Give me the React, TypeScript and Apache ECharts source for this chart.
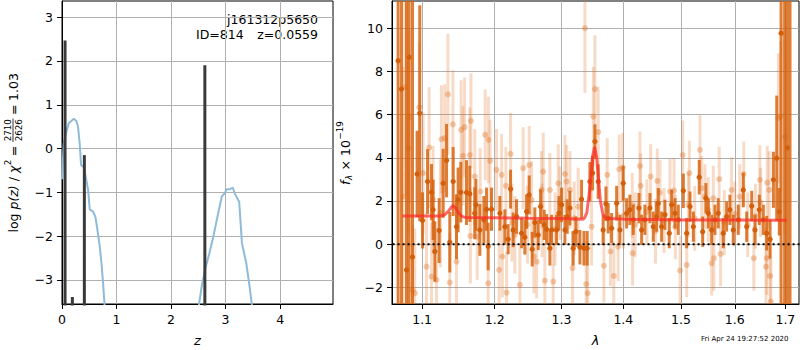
import React, { useEffect, useRef } from 'react';
import * as echarts from 'echarts';

// ---------- left panel: redshift probability ----------
const zTicks = [0, 1, 2, 3, 4];
const logpTicks = [-3, -2, -1, 0, 1, 2, 3];
const zRange = [0, 4.97];
const logpRange = [-3.55, 3.37];

const pzCurveLow: [number, number][] = [
  [0.0, -0.7], [0.031, 0.11], [0.08, 0.38], [0.123, 0.58], [0.172, 0.63], [0.215, 0.68],
  [0.264, 0.63], [0.295, 0.49], [0.325, 0.11], [0.35, -0.38], [0.399, -0.42], [0.436, -0.65],
  [0.479, -0.95], [0.509, -1.39], [0.57, -1.44], [0.613, -1.56], [0.65, -1.86], [0.693, -2.24],
  [0.724, -2.62], [0.754, -3.08], [0.779, -3.55], [0.8, -4.0],
];
const pzCurveHigh: [number, number][] = [
  [2.49, -4.0], [2.513, -3.55], [2.562, -3.15], [2.623, -2.77], [2.703, -2.39], [2.776, -2.01],
  [2.85, -1.56], [2.93, -1.1], [2.99, -1.01], [3.02, -0.93], [3.08, -0.93], [3.13, -0.89],
  [3.17, -1.03], [3.25, -1.22], [3.3, -2.16], [3.38, -2.62], [3.44, -3.15], [3.48, -3.55], [3.5, -4.0],
];
const pzBarZ = [0.0559, 0.19, 0.41, 2.62];
const pzBarTop = [2.47, -3.39, -0.15, 1.9];

// ---------- right panel: spectrum ----------
const lamTicks = [1.1, 1.2, 1.3, 1.4, 1.5, 1.6, 1.7];
const fluxTicks = [-2, 0, 2, 4, 6, 8, 10];
const lamRange = [1.061, 1.728];
const fluxRange = [-2.77, 11.26];

// [lambda, flux, error]
const darkPoints: [number, number, number][] = [
  [1.0688, 8.49, 20], [1.0732, 7.18, 20], [1.0796, -1.19, 20], [1.083, 8.66, 20], [1.0874, -0.59, 20],
  [1.0934, 3.25, 2.0], [1.0969, 6.06, 5.0], [1.1005, 1.1, 1.3], [1.1072, 2.9, 1.5], [1.1125, 2.41, 1.3],
  [1.1146, 1.59, 1.4], [1.1169, -0.34, 1.4], [1.1227, 0.63, 1.5], [1.1281, 2.82, 1.6], [1.1327, 3.87, 1.7],
  [1.1371, 0.09, 1.4], [1.1417, 2.9, 1.6], [1.1463, 0.81, 1.5], [1.1485, 2.05, 1.5], [1.1522, 2.41, 1.4],
  [1.1601, 2.39, 1.5], [1.1647, 2.33, 1.3], [1.1716, 1.43, 1.2], [1.1732, 1.82, 1.2], [1.1788, 0.66, 1.2],
  [1.1845, 1.13, 1.1], [1.1883, 1.62, 1.0], [1.1906, -0.11, 1.1], [1.1954, 1.62, 1.0],
  [1.2074, 1.43, 0.8], [1.2147, 0.81, 0.8], [1.2195, 0.23, 0.7], [1.223, 2.55, 0.9], [1.2268, 0.66, 0.8],
  [1.2318, 1.28, 0.8], [1.2393, 0.51, 0.7], [1.2441, 0.32, 0.8], [1.2467, 1.51, 0.8], [1.2506, 2.28, 0.9],
  [1.2551, -0.23, 0.8], [1.2591, 1.0, 0.7], [1.2642, 0.43, 0.7], [1.2678, 1.74, 0.8], [1.2733, 0.89, 0.7],
  [1.277, 0.69, 0.7], [1.282, -0.19, 0.8], [1.2846, 0.66, 0.7], [1.2923, 0.66, 0.7], [1.2959, 1.43, 0.8],
  [1.3001, 1.82, 0.8], [1.3053, 0.66, 0.7], [1.3089, 1.28, 0.8], [1.3131, 1.67, 0.8], [1.3183, -0.19, 0.8],
  [1.3226, 0.58, 0.7], [1.329, -0.14, 0.8], [1.3316, 2.08, 0.9], [1.3354, -0.19, 0.8], [1.3406, -0.19, 0.8],
  [1.345, 2.9, 0.9], [1.3493, 3.29, 0.8], [1.3531, 4.75, 0.8], [1.3584, 2.9, 0.8], [1.3665, 0.66, 0.7],
  [1.3711, 1.87, 0.8], [1.3748, 1.2, 0.7], [1.3805, 0.74, 0.7], [1.3888, 1.9, 0.8], [1.3942, 0.66, 0.7],
  [1.3998, 2.82, 0.8], [1.4055, 1.43, 0.7], [1.411, 1.59, 0.7], [1.4167, 1.13, 0.7], [1.4264, 1.67, 0.7],
  [1.431, 0.66, 0.7], [1.4366, 1.13, 0.7], [1.4453, 1.67, 0.7], [1.4511, 0.81, 0.7], [1.4569, 1.28, 0.7],
  [1.4598, 1.9, 0.7], [1.4657, 0.81, 0.7], [1.4716, 1.36, 0.7], [1.4792, 0.51, 0.7], [1.4834, 1.82, 0.7],
  [1.4894, 1.43, 0.7], [1.4953, 1.13, 0.7], [1.5043, 2.47, 0.8], [1.5103, 0.51, 0.7], [1.5164, 1.74, 0.7],
  [1.5225, 0.81, 0.7], [1.5333, 3.1, 0.8], [1.5396, 0.58, 0.7], [1.5456, 2.13, 0.7], [1.5501, 1.43, 0.7],
  [1.5563, 0.66, 0.7], [1.5625, 1.13, 0.7], [1.5686, 1.43, 0.7], [1.5781, 0.51, 0.7], [1.5845, 1.28, 0.7],
  [1.5907, 1.59, 0.7], [1.5971, 0.66, 0.7], [1.6067, 1.13, 0.7], [1.6164, 2.51, 0.8], [1.623, 0.81, 0.7],
  [1.6328, 1.77, 0.7], [1.6392, 0.66, 0.7], [1.6477, 1.59, 0.7], [1.6557, 1.13, 0.7], [1.6624, 0.51, 0.8],
  [1.6691, 0.23, 0.9], [1.6758, 2.98, 1.3], [1.6825, 3.98, 2.9], [1.6877, 1.5, 1.1], [1.6913, 9.77, 20],
  [1.6985, -3.5, 20], [1.704, 4.46, 20], [1.7095, -4.0, 20],
];

const lightPoints: [number, number, number][] = [
  [1.0752, 2.2, 6], [1.0777, 7.27, 5], [1.082, 4.44, 4], [1.083, 5.88, 4], [1.0874, -2.12, 3],
  [1.0904, -2.27, 3], [1.0963, 6.34, 3], [1.1013, 3.29, 2.8], [1.1058, -1.04, 2.5], [1.1093, 4.47, 2.8],
  [1.1124, -1.5, 2.5], [1.1145, 2.05, 2.5], [1.1191, -1.65, 2.4], [1.1244, 1.43, 2.5], [1.1258, 4.86, 2.5],
  [1.1302, 4.91, 2.5], [1.1346, 6.94, 2.8], [1.1371, -1.78, 2.3], [1.1413, 5.55, 2.5], [1.1463, -0.81, 2.3],
  [1.1526, 5.29, 2.3], [1.1551, 4.09, 2.3], [1.1574, 5.42, 2.3], [1.1647, 4.13, 2.2], [1.1655, 0.38, 2.2],
  [1.1663, 5.71, 2.2], [1.1716, 3.13, 2.2], [1.1751, 0.35, 2.0], [1.1793, 2.44, 2.0], [1.1864, 5.06, 2.1],
  [1.1906, -1.81, 2.0], [1.191, 4.83, 2.0], [1.1933, 3.86, 1.9], [1.2026, 3.44, 1.9], [1.2064, -1.19, 1.9],
  [1.2099, 3.21, 1.9], [1.211, -0.57, 1.9], [1.2161, 2.7, 1.8], [1.2171, -2.24, 1.9], [1.223, 4.18, 1.9],
  [1.225, 1.0, 1.8], [1.2293, 0.43, 1.8], [1.2367, -1.88, 1.8], [1.2416, 3.52, 1.9], [1.248, 0.9, 1.8],
  [1.2506, 3.67, 1.8], [1.2542, 2.05, 1.8], [1.2576, -0.57, 1.7], [1.2618, -0.81, 1.7], [1.2693, 2.51, 1.8],
  [1.27, 1.1, 1.7], [1.2718, 3.36, 1.8], [1.2743, -1.69, 1.7], [1.282, 2.51, 1.7], [1.2871, -1.73, 1.7],
  [1.29, 0.7, 1.7], [1.2949, 2.82, 1.8], [1.2974, 1.9, 1.7], [1.3053, 3.25, 1.8], [1.3079, 2.9, 1.7],
  [1.3131, 2.51, 1.8], [1.3173, -1.11, 1.7], [1.32, 1.2, 1.7], [1.3262, 1.74, 1.8], [1.337, 10.0, 3.0],
  [1.339, -1.85, 2.0], [1.3413, -2.27, 2.0], [1.3477, 0.81, 1.8], [1.3504, 5.91, 2.3], [1.3531, 7.18, 2.5],
  [1.3584, 5.19, 2.1], [1.3677, -1.0, 1.7], [1.3732, 3.21, 1.7], [1.3786, -0.34, 1.6], [1.3841, -1.47, 1.6],
  [1.3914, -0.11, 1.6], [1.3931, 3.47, 1.6], [1.3988, 3.55, 1.6], [1.4, 1.3, 1.5], [1.415, 1.8, 1.5],
  [1.4156, -0.42, 1.5], [1.42, 0.9, 1.5], [1.4281, 3.62, 1.6], [1.4293, 2.7, 1.5], [1.44, 1.5, 1.5],
  [1.4465, 3.13, 1.5], [1.455, 0.6, 1.5], [1.4581, 2.93, 1.5], [1.4628, 2.39, 1.5], [1.47, 1.1, 1.5],
  [1.4805, 2.44, 1.5], [1.4877, 2.48, 1.5], [1.49, 0.8, 1.5], [1.4984, -1.22, 1.6], [1.5033, 4.13, 1.6],
  [1.5105, -0.96, 1.5], [1.5134, 1.82, 1.5], [1.5152, 3.29, 1.5], [1.525, 1.2, 1.5], [1.5347, 4.37, 1.6],
  [1.5378, 2.59, 1.5], [1.5439, 2.2, 1.5], [1.55, 1.6, 1.5], [1.5563, -0.88, 1.5], [1.5592, 2.13, 1.5],
  [1.5605, -0.65, 1.5], [1.5704, 3.01, 1.5], [1.573, -0.45, 1.5], [1.58, 1.0, 1.5], [1.5938, 2.51, 1.5],
  [1.6, 1.4, 1.5], [1.6096, 2.2, 1.5], [1.6174, 3.25, 1.5], [1.625, 0.9, 1.5], [1.637, -0.65, 1.5],
  [1.64, 1.3, 1.5], [1.6488, 2.98, 1.6], [1.6502, 1.94, 1.6], [1.661, -1.04, 1.8], [1.6624, -0.65, 1.7],
  [1.6634, 2.85, 1.7], [1.6674, 2.51, 1.8], [1.6691, -1.47, 1.8], [1.6707, -2.66, 2.0], [1.6858, 5.83, 3.0],
  [1.6903, 5.91, 3.5], [1.6993, 4.98, 4.5],
];

const modelLine: [number, number][] = [
  [1.0745, 1.31], [1.1, 1.31], [1.125, 1.31], [1.13, 1.36], [1.135, 1.52], [1.139, 1.7], [1.1417, 1.78],
  [1.145, 1.68], [1.149, 1.45], [1.153, 1.3], [1.158, 1.24], [1.2, 1.22], [1.25, 1.2], [1.3, 1.19],
  [1.333, 1.15], [1.336, 1.2], [1.34, 1.45], [1.345, 2.6], [1.349, 4.0], [1.3525, 4.5], [1.356, 4.0],
  [1.359, 3.0], [1.362, 2.0], [1.366, 1.4], [1.37, 1.2], [1.4, 1.16], [1.45, 1.14], [1.5, 1.12],
  [1.55, 1.12], [1.6, 1.12], [1.65, 1.11], [1.7026, 1.11],
];

const FONT = 'DejaVu Sans';
const minus = (v: number) => (v < 0 ? '\u2212' + Math.abs(v) : String(v));

function errorBarSeries(points: [number, number, number][], bar: string, dot: string, r: number, z: number) {
  return {
    type: 'custom',
    xAxisIndex: 1,
    yAxisIndex: 1,
    clip: true,
    z,
    data: points.map((p) => [Math.log(p[0]), p[1], p[2]]),
    encode: { x: 0, y: 1 },
    renderItem: (params: any, api: any) => {
      const x = api.value(0);
      const y = api.value(1);
      const e = api.value(2);
      const top = api.coord([x, y + e]);
      const bot = api.coord([x, y - e]);
      const c = api.coord([x, y]);
      return {
        type: 'group',
        children: [
          { type: 'line', shape: { x1: top[0], y1: top[1], x2: bot[0], y2: bot[1] }, style: { stroke: bar, lineWidth: 3 } },
          { type: 'circle', shape: { cx: c[0], cy: c[1], r }, style: { fill: dot } },
        ],
      };
    },
  };
}

function axisCommon(ticks: number[], fmt: (v: number) => string) {
  return {
    axisLine: { show: true, onZero: false, lineStyle: { color: '#000', width: 1 } },
    axisTick: { show: true, inside: false, length: 5, customValues: ticks, lineStyle: { color: '#000', width: 1 } },
    axisLabel: { show: true, customValues: ticks, margin: 9, fontSize: 12.5, color: '#000', fontFamily: FONT, formatter: fmt },
    splitLine: { show: true, lineStyle: { color: '#b0b0b0', width: 1 } },
  };
}

export default function App() {
  const ref = useRef<HTMLDivElement>(null);
  useEffect(() => {
    if (!ref.current) return;
    const chart = echarts.init(ref.current, null, { renderer: 'svg' });
    const lamTickLn = lamTicks.map((v) => Math.log(v));
    const series: any[] = [];
    series.push({
      type: 'line', xAxisIndex: 0, yAxisIndex: 0, data: pzCurveLow, showSymbol: false, symbol: 'none',
      lineStyle: { color: '#8fbbd9', width: 2 }, z: 3,
    });
    series.push({
      type: 'line', xAxisIndex: 0, yAxisIndex: 0, data: pzCurveHigh, showSymbol: false, symbol: 'none',
      lineStyle: { color: '#8fbbd9', width: 2 }, z: 3,
    });
    pzBarZ.forEach((zv, i) => {
      series.push({
        type: 'line', xAxisIndex: 0, yAxisIndex: 0, data: [[zv, -4], [zv, pzBarTop[i]]], symbol: 'none',
        lineStyle: { color: '#3a3a3a', width: 3, cap: 'butt' }, z: 4,
      });
    });
    series.push(errorBarSeries(lightPoints, 'rgba(222,110,30,0.25)', 'rgba(222,110,30,0.35)', 3, 2));
    series.push(errorBarSeries(darkPoints, 'rgba(214,96,10,0.82)', '#d45f0a', 2.6, 3));
    series.push({
      type: 'line', xAxisIndex: 1, yAxisIndex: 1, symbol: 'none', z: 4,
      data: modelLine.map((p) => [Math.log(p[0]), p[1]]),
      lineStyle: { color: 'rgba(255,40,40,0.7)', width: 3 },
    });
    series.push({
      type: 'line', xAxisIndex: 1, yAxisIndex: 1, symbol: 'none', z: 5,
      data: [[Math.log(1.0), 0], [Math.log(1.8), 0]],
      lineStyle: { color: '#000', width: 2, type: [2, 3] },
    });

    chart.setOption({
      animation: false,
      backgroundColor: '#fff',
      grid: [
        { left: 62, top: 1, width: 271, height: 303, show: true, borderColor: '#000', borderWidth: 1, backgroundColor: 'transparent', containLabel: false, outerBoundsMode: 'none' },
        { left: 392, top: 1, width: 407, height: 303, show: true, borderColor: '#000', borderWidth: 1, backgroundColor: 'transparent', containLabel: false, outerBoundsMode: 'none' },
      ],
      xAxis: [
        {
          type: 'value', gridIndex: 0, min: zRange[0], max: zRange[1], ...axisCommon(zTicks, (v) => minus(v)),
          name: 'z', nameLocation: 'middle', nameGap: 30,
          nameTextStyle: { fontStyle: 'italic', fontSize: 13, color: '#000', fontFamily: FONT },
        },
        {
          type: 'value', gridIndex: 1, min: Math.log(lamRange[0]), max: Math.log(lamRange[1]),
          ...axisCommon(lamTickLn, (v) => Math.exp(v).toFixed(1)),
          name: '\u03bb', nameLocation: 'middle', nameGap: 30,
          nameTextStyle: { fontStyle: 'italic', fontSize: 13, color: '#000', fontFamily: FONT },
        },
      ],
      yAxis: [
        { type: 'value', gridIndex: 0, min: logpRange[0], max: logpRange[1], ...axisCommon(logpTicks, (v) => minus(v)) },
        { type: 'value', gridIndex: 1, min: fluxRange[0], max: fluxRange[1], ...axisCommon(fluxTicks, (v) => minus(v)) },
      ],
      graphic: [
        { type: 'text', x: 318, y: 19, style: { text: 'j161312p5650', align: 'right', verticalAlign: 'middle', fontSize: 12.5, fontFamily: FONT, fill: '#000' } },
        { type: 'text', x: 196, y: 34, style: { text: 'ID=814', align: 'left', verticalAlign: 'middle', fontSize: 12.5, fontFamily: FONT, fill: '#000' } },
        { type: 'text', x: 318, y: 34, style: { text: 'z=0.0559', align: 'right', verticalAlign: 'middle', fontSize: 12.5, fontFamily: FONT, fill: '#000' } },
        { type: 'text', x: 701, y: 339, style: { text: 'Fri Apr 24 19:27:52 2020', align: 'left', verticalAlign: 'middle', fontSize: 7, fontFamily: FONT, fill: '#000' } },
        {
          type: 'group', x: 13, y: 152.5, rotation: Math.PI / 2,
          children: [
            { type: 'text', x: -80, y: 0, style: { text: 'log', align: 'left', verticalAlign: 'middle', fontSize: 12.5, fontFamily: FONT, fill: '#000' } },
            { type: 'text', x: -57, y: 0, style: { text: 'p(z)', align: 'left', verticalAlign: 'middle', fontSize: 12.5, fontStyle: 'italic', fontFamily: FONT, fill: '#000' } },
            { type: 'text', x: -28.7, y: 0, style: { text: '/', align: 'left', verticalAlign: 'middle', fontSize: 12.5, fontFamily: FONT, fill: '#000' } },
            { type: 'text', x: -20.5, y: 0, style: { text: '\u03c7', align: 'left', verticalAlign: 'middle', fontSize: 12.5, fontStyle: 'italic', fontFamily: FONT, fill: '#000' } },
            { type: 'text', x: -12.8, y: -5, style: { text: '2', align: 'left', verticalAlign: 'middle', fontSize: 8.75, fontFamily: FONT, fill: '#000' } },
            { type: 'text', x: -3.7, y: 0, style: { text: '=', align: 'left', verticalAlign: 'middle', fontSize: 12.5, fontFamily: FONT, fill: '#000' } },
            { type: 'text', x: 22.3, y: -5, style: { text: '2710', align: 'center', verticalAlign: 'middle', fontSize: 8.75, fontFamily: FONT, fill: '#000' } },
            { type: 'line', shape: { x1: 10.5, y1: 0, x2: 34, y2: 0 }, style: { stroke: '#000', lineWidth: 0.8 } },
            { type: 'text', x: 22.3, y: 5.5, style: { text: '2626', align: 'center', verticalAlign: 'middle', fontSize: 8.75, fontFamily: FONT, fill: '#000' } },
            { type: 'text', x: 37.5, y: 0, style: { text: '=', align: 'left', verticalAlign: 'middle', fontSize: 12.5, fontFamily: FONT, fill: '#000' } },
            { type: 'text', x: 51.5, y: 0, style: { text: '1.03', align: 'left', verticalAlign: 'middle', fontSize: 12.5, fontFamily: FONT, fill: '#000' } },
          ],
        },
        {
          type: 'group', x: 345, y: 153, rotation: Math.PI / 2,
          children: [
            { type: 'text', x: -32, y: 0, style: { text: 'f', align: 'left', verticalAlign: 'middle', fontSize: 12.5, fontStyle: 'italic', fontFamily: FONT, fill: '#000' } },
            { type: 'text', x: -27, y: 4, style: { text: '\u03bb', align: 'left', verticalAlign: 'middle', fontSize: 8.75, fontStyle: 'italic', fontFamily: FONT, fill: '#000' } },
            { type: 'text', x: -17.5, y: 0, style: { text: '\u00d7', align: 'left', verticalAlign: 'middle', fontSize: 12.5, fontFamily: FONT, fill: '#000' } },
            { type: 'text', x: -3, y: 0, style: { text: '10', align: 'left', verticalAlign: 'middle', fontSize: 12.5, fontFamily: FONT, fill: '#000' } },
            { type: 'text', x: 13.4, y: -5, style: { text: '\u221219', align: 'left', verticalAlign: 'middle', fontSize: 8.75, fontFamily: FONT, fill: '#000' } },
          ],
        },
      ],
      series,
    });
    return () => chart.dispose();
  }, []);
  return <div ref={ref} style={{ position: 'absolute', left: 0, top: 0, width: 800, height: 350 }} />;
}
